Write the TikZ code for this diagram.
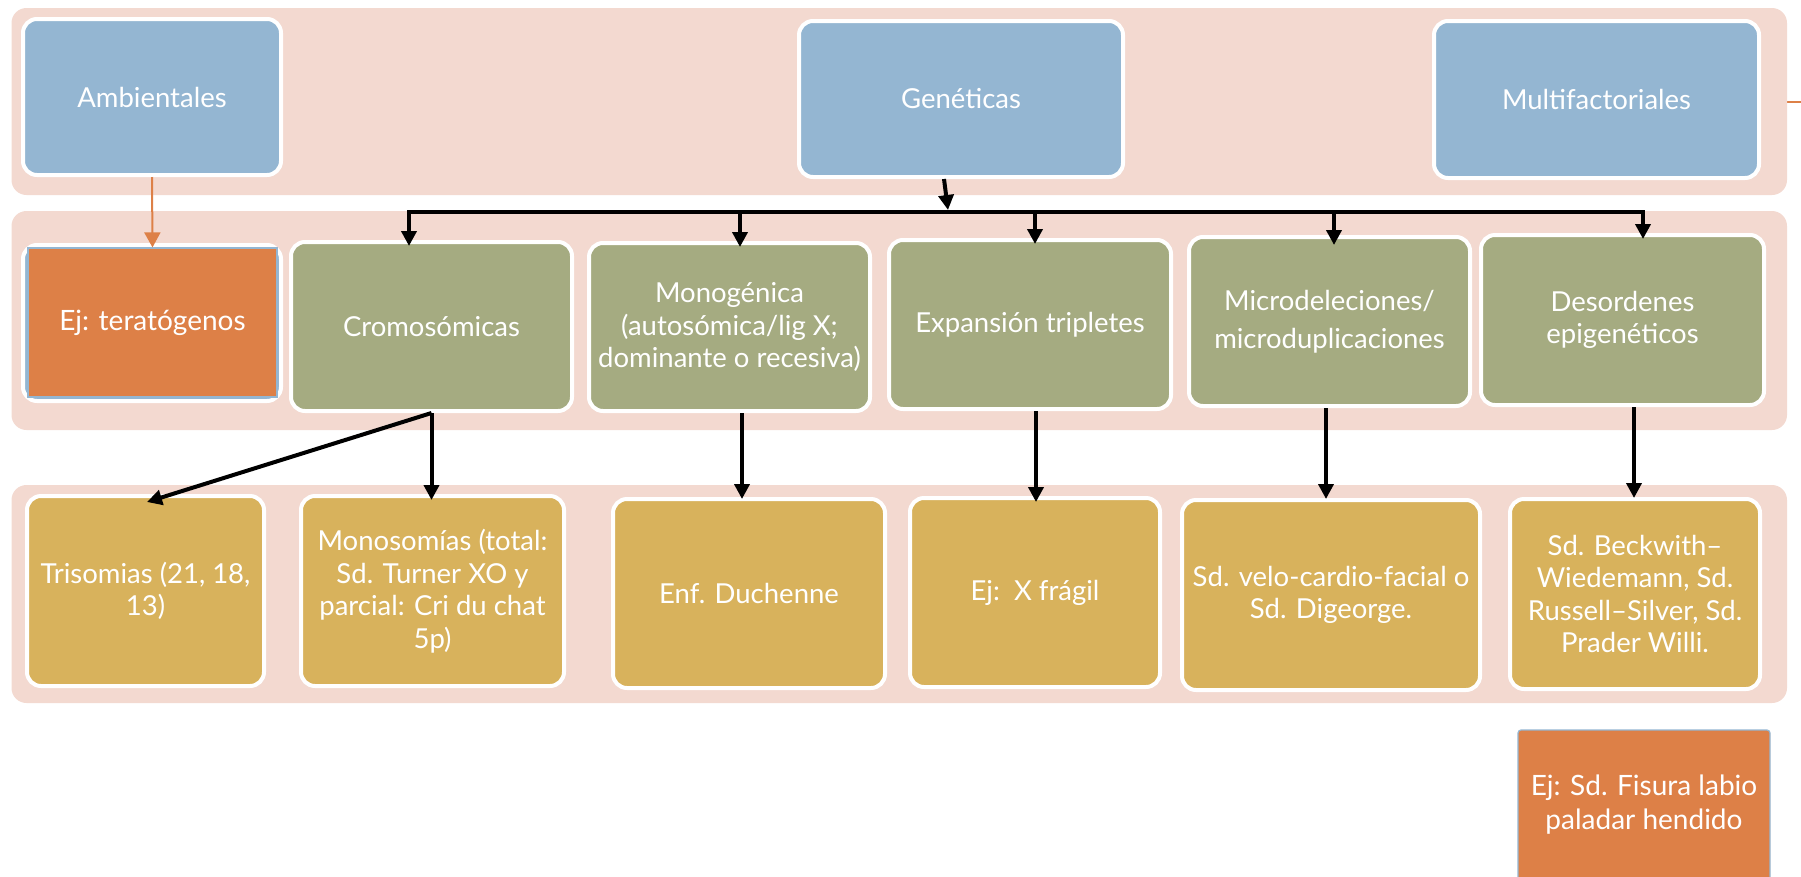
\documentclass[tikz,border=0pt]{standalone}
\usepackage{fontspec}
\setmainfont{Lato}
\usetikzlibrary{arrows.meta,calc}
\definecolor{bandc}{HTML}{F3D9D0}
\definecolor{bluec}{HTML}{94B6D2}
\definecolor{greenc}{HTML}{A5AB81}
\definecolor{goldc}{HTML}{D8B25C}
\definecolor{orangec}{HTML}{DD8047}
\pgfdeclarelayer{bg}
\pgfsetlayers{bg,main}
\tikzset{
 box/.style={rectangle, rounded corners=14pt, draw=white, line width=4pt, text=white, align=center, inner sep=0pt, font=\fontsize{27.5}{32.5}\selectfont},
 bluebox/.style={box, fill=bluec},
 greenbox/.style={box, fill=greenc},
 goldbox/.style={box, fill=goldc},
 orangebox/.style={rectangle, fill=orangec, draw=bluec, line width=1.2pt, text=white, align=center, inner sep=0pt, font=\fontsize{28}{34}\selectfont},
 band/.style={fill=bandc, rounded corners=15pt},
 arr/.style={draw=black, line width=4pt, -{Triangle[length=15pt,width=15pt]}},
 busline/.style={draw=black, line width=4pt, line cap=rect},
 oarr/.style={draw=orangec, line width=2pt, -{Triangle[length=15pt,width=16pt]}},
 oline/.style={draw=orangec, line width=2pt},
}
\begin{document}
\begin{tikzpicture}[x=1pt,y=-1pt]
\useasboundingbox (0,0) rectangle (1801,876);
\clip (0,0) rectangle (1801,876);

% row 1
\node[bluebox, minimum width=258pt, minimum height=156pt] (amb) at (152,97) {Ambientales};
\node[bluebox, minimum width=324pt, minimum height=156pt] (gen) at (961,99) {Genéticas};
\node[bluebox, minimum width=325pt, minimum height=157pt] (mul) at (1596.5,99.5) {Multifactoriales};

% row 2
\node[bluebox, minimum width=258pt, minimum height=156pt] (ter) at (152,323) {};
\node[orangebox, minimum width=249pt, minimum height=149pt] (terin) at (152.5,322.5) {Ej: teratógenos};
\node[greenbox, minimum width=281pt, minimum height=169pt] (cro) at (431.5,326.5) {Cromosómicas};
\node[greenbox, minimum width=281pt, minimum height=168pt] (mon) at (729.5,327) {Monogénica\\(autosómica/lig X;\\dominante o recesiva)};
\node[greenbox, minimum width=282pt, minimum height=169pt] (exp) at (1030,324.5) {Expansión tripletes};
\node[greenbox, minimum width=281pt, minimum height=169pt] (mic) at (1329.5,321.5) {Microdeleciones/\\[6pt]microduplicaciones};
\node[greenbox, minimum width=283pt, minimum height=170pt] (des) at (1622.5,320) {Desordenes\\epigenéticos};

% row 3
\node[goldbox, minimum width=237pt, minimum height=190pt] (tri) at (145.5,591) {Trisomias (21, 18,\\13)};
\node[goldbox, minimum width=263pt, minimum height=190pt] (mns) at (432.5,591) {Monosomías (total:\\Sd. Turner XO y\\parcial: Cri du chat\\5p)};
\node[goldbox, minimum width=272pt, minimum height=189pt] (duc) at (749,593.5) {Enf. Duchenne};
\node[goldbox, minimum width=250pt, minimum height=189pt] (xfr) at (1035,592.5) {Ej:\ \ X frágil};
\node[goldbox, minimum width=298pt, minimum height=190pt] (vel) at (1331,595) {Sd. velo-cardio-facial o\\Sd. Digeorge.};
\node[goldbox, minimum width=250pt, minimum height=190pt] (bec) at (1635,594) {Sd. Beckwith–\\Wiedemann, Sd.\\Russell–Silver, Sd.\\Prader Willi.};

% bottom orange
\node[orangebox, rounded corners=3pt, minimum width=252pt, minimum height=150pt] (fis) at (1644,805) {Ej: Sd. Fisura labio\\paladar hendido};

% coordinates
\coordinate (mulR) at (1801,102);
\coordinate (busL) at (409,212);
\coordinate (busR) at (1643,212);
\coordinate (busG) at (948,210);
\coordinate (gs) at ([xshift=-17pt]gen.south);
\coordinate (dcro) at ([xshift=-22.5pt]cro.north);
\coordinate (dmon) at ([xshift=10.5pt]mon.north);
\coordinate (dexp) at ([xshift=5pt]exp.north);
\coordinate (dmic) at ([xshift=4.5pt]mic.north);
\coordinate (ddes) at ([xshift=20.5pt]des.north);

% background
\begin{pgfonlayer}{bg}
\draw[oline] (mul.east |- mulR) -- (mulR);
\fill[band] (11.5,8) rectangle (1787,195);
\fill[band] (11.5,211) rectangle (1787,430);
\fill[band] (11.5,485) rectangle (1787,703);
\end{pgfonlayer}

% connectors
\draw[oarr] (amb.south) -- (terin.north);
\draw[arr] (gs) -- (busG);
\draw[busline] (dcro |- busL) -- (ddes |- busR);
\draw[arr] (dcro |- busL) -- ([yshift=-6pt]dcro);
\draw[arr] (dmon |- busL) -- ([yshift=-6pt]dmon);
\draw[arr] (dexp |- busL) -- ([yshift=-6pt]dexp);
\draw[arr] (dmic |- busL) -- ([yshift=-10pt]dmic);
\draw[arr] (ddes |- busL) -- ([yshift=-6pt]ddes);

\draw[arr] (cro.south) -- ([xshift=1.5pt,yshift=-8pt]tri.north);
\draw[arr] (cro.south) -- ([yshift=-6pt]cro.south |- mns.north);
\draw[arr] ([xshift=12.5pt]mon.south) -- ([xshift=-7pt,yshift=-2pt]duc.north);
\draw[arr] ([xshift=6pt]exp.south) -- ([xshift=1pt,yshift=-6pt]xfr.north);
\draw[arr] ([xshift=-3.5pt]mic.south) -- ([xshift=-5pt,yshift=-1pt]vel.north);
\draw[arr] ([xshift=11.5pt]des.south) -- ([xshift=-1pt,yshift=-1pt]bec.north);
\end{tikzpicture}
\end{document}
